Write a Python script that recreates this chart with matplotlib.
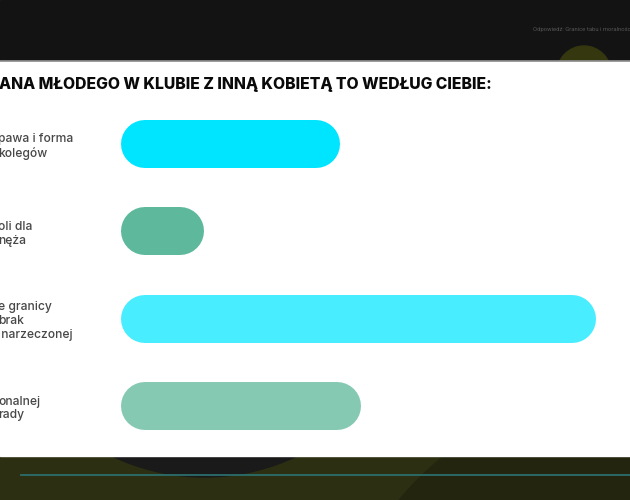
import matplotlib
matplotlib.use("Agg")
import matplotlib.pyplot as plt
from matplotlib.patches import Rectangle, Circle
from matplotlib.transforms import blended_transform_factory

# ---- data ----
title = "ANA MŁODEGO W KLUBIE Z INNĄ KOBIETĄ TO WEDŁUG CIEBIE:"
categories = [
    "pawa i forma\nkolegów",
    "oli dla\nnęża",
    "e granicy\nbrak\n narzeczonej",
    "onalnej\nrady",
]
values = [21.5, 8.2, 46.7, 23.6]
bar_colors = ["#00E5FF", "#5DB89C", "#48EDFF", "#86C9B2"]
top_note = "Odpowiedź: Granice tabu i moralności"

W, H = 630, 500
fig = plt.figure(figsize=(W / 100, H / 100), dpi=100)

# ---- background (pixel coordinates) ----
bg = fig.add_axes([0, 0, 1, 1])
bg.set_xlim(0, W)
bg.set_ylim(H, 0)
bg.axis("off")
top_band = Rectangle((0, 0), W, 61, color="#131313", zorder=0)
bg.add_patch(top_band)
oc = Circle((584, 73), 27, color="#35370f", zorder=1)
bg.add_patch(oc)
oc.set_clip_path(top_band)
bottom_band = Rectangle((0, 456), W, 44, color="#2c2f11", zorder=0)
bg.add_patch(bottom_band)
c1 = Circle((640, 700), 313, color="#23250f", zorder=1)
c2 = Circle((204.5, 263), 214, color="#1a1a1a", zorder=1)
for c in (c1, c2):
    bg.add_patch(c)
    c.set_clip_path(bottom_band)
bg.add_patch(Rectangle((0, 61), W, 395, color="white", zorder=2))
bg.plot([0, W], [61, 61], color="#8a8a8a", lw=1.2, zorder=3)
bg.plot([21, W], [474.5, 474.5], color="#2b6e6c", lw=1.3, zorder=3)
bg.text(533, 29, top_note, fontsize=4.2, color="#555555", va="center",
        ha="left", family="Roboto", zorder=3)

fig.text(-0.002, 1 - 84 / H, title, fontsize=11.3, fontweight="heavy",
         family=["Inter", "DejaVu Sans"], color="#0a0a0a", va="center", ha="left")

# ---- bar axes ----
x0_px, x1_px = 121, 630
top_px, bot_px = 100, 450
ax = fig.add_axes([x0_px / W, 1 - bot_px / H, (x1_px - x0_px) / W, (bot_px - top_px) / H])
ax.patch.set_alpha(0)
ax.axis("off")
ax.set_xlim(0, 50)
spacing = 87.3
c0 = 144
ax.set_ylim((bot_px - c0) / spacing, (top_px - c0) / spacing)

bar_h_px = 48
px_per_unit = (x1_px - x0_px) / 50
r = (bar_h_px / 2) / px_per_unit
lw_pt = bar_h_px * 72 / 100
for i, (v, c) in enumerate(zip(values, bar_colors)):
    ax.plot([r, v - r], [i, i], color=c, lw=lw_pt, solid_capstyle="round", zorder=3)

tr = blended_transform_factory(fig.transFigure, ax.transData)
for i, lab in enumerate(categories):
    ax.text(-0.003, i + 0.03, lab, transform=tr, fontsize=8.7,
            family=["Inter", "DejaVu Sans"], fontweight="medium", color="#474747",
            ha="left", va="center", linespacing=1.2, zorder=4)

fig.savefig("out.png", dpi=100)
